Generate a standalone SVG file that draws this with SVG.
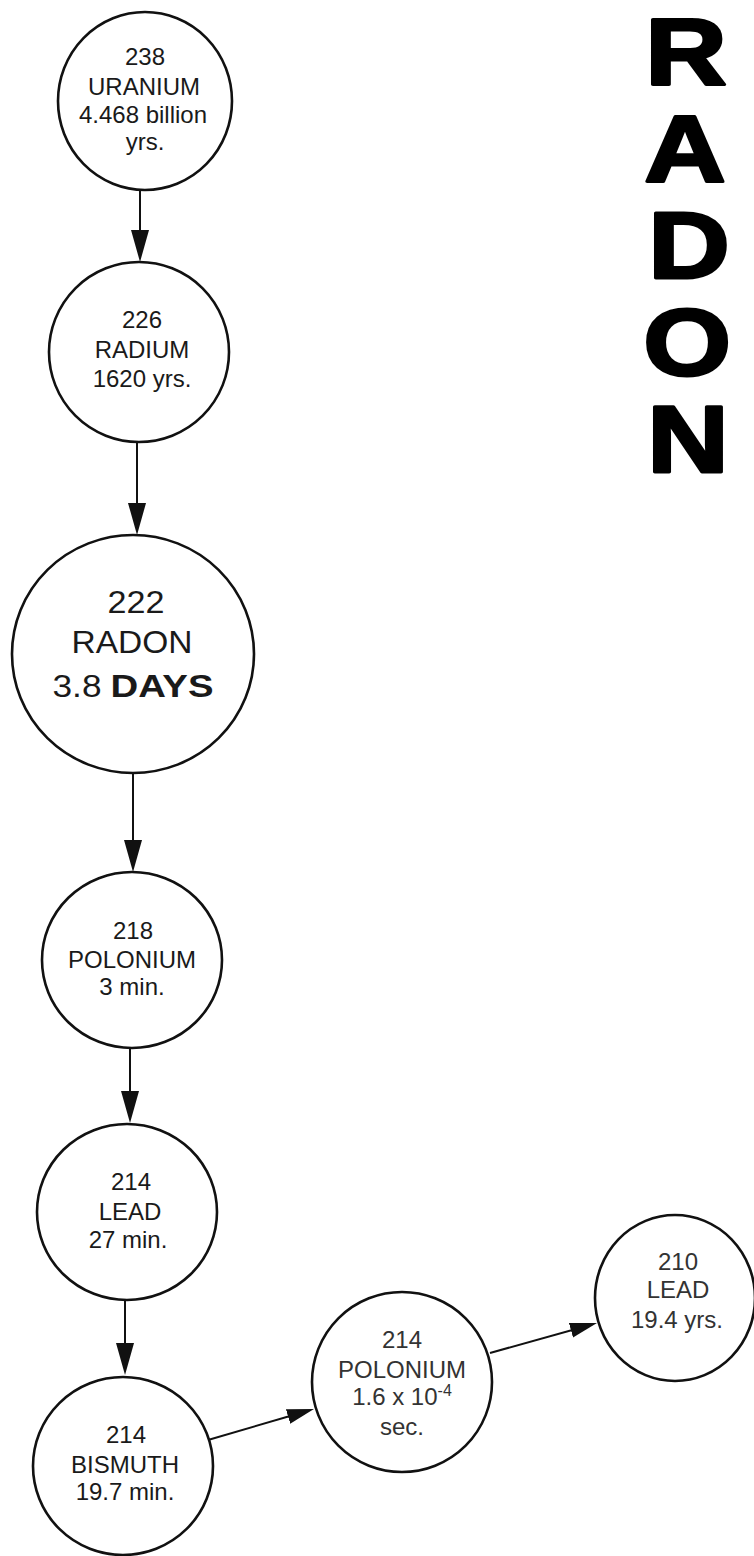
<svg xmlns="http://www.w3.org/2000/svg" width="754" height="1556" viewBox="0 0 754 1556">
<style>
.node ellipse{fill:#fff;stroke:#111;stroke-width:2.6}
.t{font-family:"Liberation Sans",Arial,Helvetica,sans-serif;fill:#1a1a1a;text-anchor:middle;font-size:24px}
.lt{fill:#333}
.big{font-size:32px}
.b{font-weight:bold}
.conn line{stroke:#111;stroke-width:2}
.title{font-family:"Liberation Sans",Arial,Helvetica,sans-serif;font-weight:900;font-size:94px;text-anchor:middle;fill:#000;stroke:#000;stroke-width:3;stroke-linejoin:round}
</style>
<defs>
<marker id="ah" markerUnits="userSpaceOnUse" markerWidth="32" markerHeight="20" viewBox="0 0 32 20" refX="22" refY="10" orient="auto"><path d="M0,1 L32,10 L0,19 z" fill="#111"/></marker>
<marker id="ah2" markerUnits="userSpaceOnUse" markerWidth="27" markerHeight="16" viewBox="0 0 27 16" refX="19" refY="8" orient="auto"><path d="M0,0.5 L27,8 L0,15.5 z" fill="#111"/></marker>
</defs>
<rect width="754" height="1556" fill="#fff"/>
<g id="title" transform="scale(1.2,1)">
<text class="title"><tspan x="571.7" y="85">R</tspan><tspan x="570.8" y="182">A</tspan><tspan x="574.2" y="278">D</tspan><tspan x="572.5" y="375">O</tspan><tspan x="573.3" y="472">N</tspan></text>
</g>
<g id="connectors" class="conn">
<line x1="140" y1="190" x2="140" y2="252" marker-end="url(#ah)"/>
<line x1="137" y1="443" x2="137" y2="525" marker-end="url(#ah)"/>
<line x1="133" y1="773" x2="133" y2="862" marker-end="url(#ah)"/>
<line x1="130" y1="1048" x2="130" y2="1113" marker-end="url(#ah)"/>
<line x1="125" y1="1300" x2="125" y2="1365" marker-end="url(#ah)"/>
<line x1="208" y1="1440" x2="306.3" y2="1411.2" marker-end="url(#ah2)"/>
<line x1="490" y1="1353" x2="589.3" y2="1325.2" marker-end="url(#ah2)"/>
</g>
<g id="uranium238" class="node">
<ellipse cx="145" cy="101" rx="87" ry="89"/>
<text class="t" x="145" y="65">238</text>
<text class="t" x="144" y="95">URANIUM</text>
<text class="t" x="143" y="123">4.468 billion</text>
<text class="t" x="145" y="150">yrs.</text>
</g>
<g id="radium226" class="node">
<ellipse cx="139" cy="352" rx="90" ry="90"/>
<text class="t" x="142" y="328">226</text>
<text class="t" x="142" y="358">RADIUM</text>
<text class="t" x="142" y="387">1620 yrs.</text>
</g>
<g id="radon222" class="node">
<ellipse cx="133" cy="654" rx="121" ry="119"/>
<text class="t big" x="136" y="613" textLength="57" lengthAdjust="spacingAndGlyphs">222</text>
<text class="t big" x="132" y="653" textLength="121" lengthAdjust="spacingAndGlyphs">RADON</text>
<text class="t big" x="77" y="697" textLength="49" lengthAdjust="spacingAndGlyphs">3.8</text>
<text class="t big b" x="162" y="697" font-size="33" textLength="103" lengthAdjust="spacingAndGlyphs">DAYS</text>
</g>
<g id="polonium218" class="node">
<ellipse cx="132" cy="960" rx="90" ry="88"/>
<text class="t" x="133" y="939">218</text>
<text class="t" x="132" y="968">POLONIUM</text>
<text class="t" x="132" y="995">3 min.</text>
</g>
<g id="lead214" class="node">
<ellipse cx="127" cy="1212" rx="90" ry="88"/>
<text class="t" x="131" y="1190">214</text>
<text class="t" x="130" y="1220">LEAD</text>
<text class="t" x="128" y="1248">27 min.</text>
</g>
<g id="bismuth214" class="node">
<ellipse cx="123" cy="1466" rx="90" ry="89"/>
<text class="t" x="126" y="1443">214</text>
<text class="t" x="125" y="1473">BISMUTH</text>
<text class="t" x="125" y="1500">19.7 min.</text>
</g>
<g id="polonium214" class="node">
<ellipse cx="402" cy="1382" rx="90" ry="90"/>
<text class="t lt" x="402" y="1348">214</text>
<text class="t lt" x="402" y="1378">POLONIUM</text>
<text class="t lt" x="402" y="1405">1.6 x 10<tspan dy="-9" font-size="16">-4</tspan></text>
<text class="t lt" x="402" y="1435">sec.</text>
</g>
<g id="lead210" class="node">
<ellipse cx="675" cy="1298" rx="80" ry="83"/>
<text class="t lt" x="678" y="1270" font-size="23">210</text>
<text class="t lt" x="678" y="1298" font-size="23">LEAD</text>
<text class="t lt" x="677" y="1328" font-size="23">19.4 yrs.</text>
</g>
</svg>
